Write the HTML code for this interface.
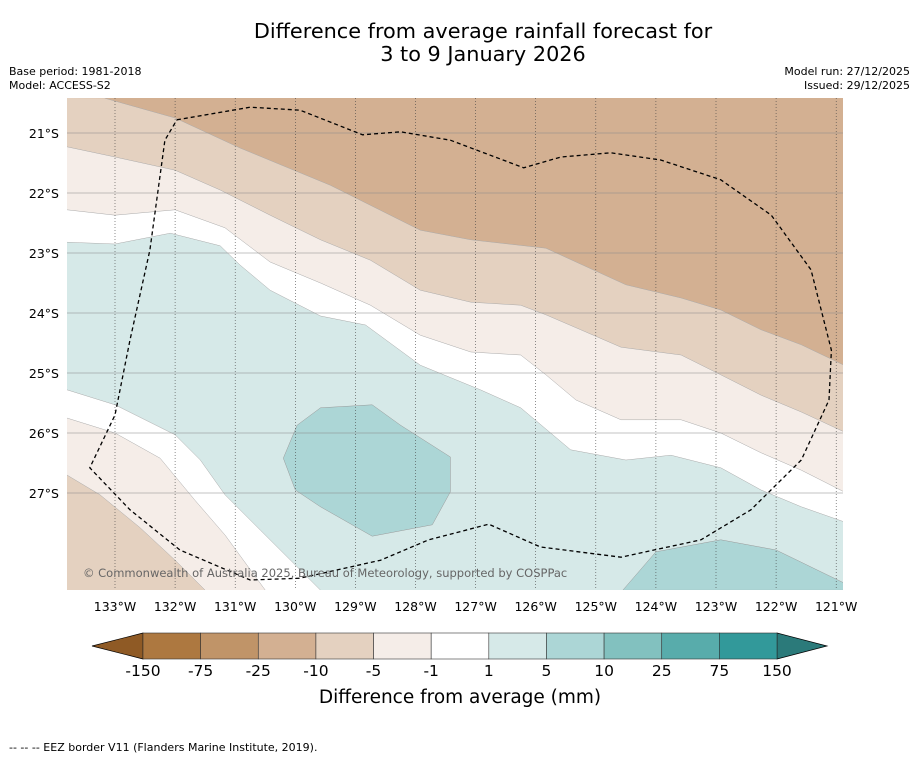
<!DOCTYPE html>
<html><head><meta charset="utf-8">
<style>
body{margin:0;background:#fff;width:919px;height:758px;overflow:hidden;font-family:"DejaVu Sans","Liberation Sans",sans-serif;}
svg{position:absolute;left:0;top:0}
</style></head>
<body>
<svg id="s" width="919" height="758" viewBox="0 0 919 758" font-family="DejaVu Sans, Liberation Sans, sans-serif">
<text x="483" y="38" text-anchor="middle" font-size="20.8" fill="#000">Difference from average rainfall forecast for</text>
<text x="483" y="61" text-anchor="middle" font-size="20.8" fill="#000">3 to 9 January 2026</text>
<text x="9" y="75" font-size="11">Base period: 1981-2018</text>
<text x="9" y="89" font-size="11">Model: ACCESS-S2</text>
<text x="910" y="75" font-size="11" text-anchor="end">Model run: 27/12/2025</text>
<text x="910" y="89" font-size="11" text-anchor="end">Issued: 29/12/2025</text>
<defs><clipPath id="pc"><rect x="67" y="98" width="776" height="492"/></clipPath></defs>
<g id="map" clip-path="url(#pc)"></g>
<g id="axes"></g>
<text x="83" y="577" font-size="11.5" fill="#666">© Commonwealth of Australia 2025, Bureau of Meteorology, supported by COSPPac</text>
<g id="cbar"></g>
<text x="460" y="703" text-anchor="middle" font-size="18.5">Difference from average (mm)</text>
<text x="9" y="751" font-size="11">--  --  -- EEZ border V11 (Flanders Marine Institute, 2019).</text>
</svg>
<script>
const lonTicks=[133,132,131,130,129,128,127,126,125,124,123,122,121];
const latTicks=[21,22,23,24,25,26,27];
const cbLevels=["-150","-75","-25","-10","-5","-1","1","5","10","25","75","150"];
const cbColors=["#ad7840","#c09468","#d3b092","#e4d1c0","#f5ede8","#ffffff","#d6e9e8","#acd6d6","#82c1bf","#58acab","#32999a"];
// contour boundaries [lon, lat]
const b1=[[133.17,20.42],[132,20.75],[130.92,21.25],[129.42,21.87],[127.92,22.62],[127.08,22.78],[125.83,22.92],[125.33,23.15],[124.5,23.53],[123.58,23.75],[122.92,23.95],[122.25,24.28],[121.58,24.53],[120.87,24.87]];
const b2=[[133.8,21.23],[133,21.4],[132,21.62],[131.25,21.95],[130.42,22.37],[129.58,22.78],[128.75,23.12],[127.92,23.62],[127.08,23.82],[126.25,23.87],[125.83,24.03],[125.25,24.28],[124.58,24.57],[123.58,24.7],[122.92,25.03],[122.25,25.37],[121.58,25.65],[120.87,25.98]];
const b3=[[133.8,22.28],[133,22.37],[132,22.28],[131.17,22.58],[130.42,23.15],[129.58,23.5],[128.75,23.87],[127.92,24.37],[127.08,24.65],[126.25,24.7],[125.83,25.03],[125.33,25.45],[124.58,25.78],[123.58,25.78],[122.92,26],[122.25,26.33],[121.58,26.62],[120.87,26.98]];
const b4=[[133.8,22.82],[133,22.85],[132.08,22.67],[131.25,22.88],[130.92,23.2],[130.42,23.62],[129.58,24.05],[128.83,24.2],[127.92,24.87],[126.92,25.28],[126.25,25.58],[125.42,26.28],[124.5,26.45],[123.75,26.37],[122.92,26.58],[122.25,26.95],[121.58,27.23],[120.87,27.48]];
const b5=[[133.8,25.28],[133,25.53],[132,26.03],[131.58,26.45],[131.17,27.03],[130.58,27.62],[130,28.2],[129.58,28.62]];
const b6=[[133.8,25.75],[133,26],[132.25,26.42],[131.67,27.12],[131.17,27.7],[130.5,28.62]];
const b7=[[133.8,26.7],[133.25,27.03],[132.58,27.58],[132,28.12],[131.5,28.62]];
const blob=[[129.58,25.58],[128.72,25.53],[128.25,25.87],[127.42,26.4],[127.42,26.98],[127.72,27.53],[128.72,27.72],[129.58,27.23],[130,26.95],[130.2,26.42],[129.97,25.87]];
const blobBR=[[124.55,28.62],[124,27.98],[122.92,27.78],[122,27.95],[120.87,28.5],[120.87,28.62]];
const eez=[[131.97,20.78],[130.75,20.57],[129.92,20.62],[128.88,21.03],[128.25,20.98],[127.42,21.12],[126.2,21.58],[125.58,21.4],[124.75,21.33],[123.92,21.45],[122.92,21.78],[122.08,22.37],[121.42,23.28],[121.08,24.62],[121.12,25.45],[121.58,26.45],[122.42,27.28],[123.25,27.78],[124.58,28.07],[125.92,27.9],[126.78,27.52],[127.78,27.78],[128.58,28.12],[129.92,28.42],[130.75,28.45],[131.92,27.95],[132.75,27.28],[133.42,26.58],[133,25.7],[132.75,24.45],[132.42,22.95],[132.17,21.12],[131.97,20.78]];

const X0=67,X1=843,Y0=98,Y1=590;
const xs=lon=>115+(133-lon)*60.1;
const ys=lat=>133+(lat-21)*60;
const NS='http://www.w3.org/2000/svg';
function mk(tag,attrs,parent){const e=document.createElementNS(NS,tag);for(const k in attrs)e.setAttribute(k,attrs[k]);parent.appendChild(e);return e;}
const map=document.getElementById('map');
const pts=a=>a.map(p=>xs(p[0]).toFixed(1)+','+ys(p[1]).toFixed(1)).join(' ');
let r=mk('rect',{x:X0,y:Y0,width:X1-X0,height:Y1-Y0,fill:cbColors[2]},map);


const corners=' '+X1+','+Y1+' '+X0+','+Y1;
const bands=[[b1,cbColors[3],' '+X1+','+Y1+' '+X0+','+Y1+' '+X0+','+Y0,'region-minus10-minus5'],[b2,cbColors[4],corners,'region-minus5-minus1'],[b3,cbColors[5],corners,'region-near-average'],[b4,cbColors[6],corners,'region-1-5'],[b5,cbColors[5],' '+X0+','+Y1,'region-near-average-sw'],[b6,cbColors[4],' '+X0+','+Y1,'region-minus5-minus1-sw'],[b7,cbColors[3],' '+X0+','+Y1,'region-minus10-minus5-sw']];
bands.forEach(b=>{
  const p=mk('polygon',{points:pts(b[0])+b[2],fill:b[1]},map);
  
  
});
[blob,blobBR].forEach((b,i)=>{
  const p=mk('polygon',{points:pts(b),fill:cbColors[7],stroke:'#999','stroke-width':0.5},map);
  
  
});
[b1,b2,b3,b4,b5,b6,b7].forEach(b=>{
  const l=mk('polyline',{points:pts(b),fill:'none',stroke:'#aaa','stroke-width':0.5},map);
  
  
});
const ax=document.getElementById('axes');
lonTicks.forEach(t=>{
  const x=xs(t);
  const g=mk('line',{x1:x,x2:x,y1:Y0,y2:Y1,stroke:'#444','stroke-width':0.6,'stroke-dasharray':'1,2'},map);
  
  
  const tx=mk('text',{x:x,y:611,'text-anchor':'middle','font-size':12.5},ax);
  tx.textContent=t+'°W';
  
  
});
latTicks.forEach(t=>{
  const y=ys(t);
  const g=mk('line',{x1:X0,x2:X1,y1:y,y2:y,stroke:'#888','stroke-width':0.6},map);
  
  
  const tx=mk('text',{x:59,y:y+5,'text-anchor':'end','font-size':12.5},ax);
  tx.textContent=t+'°S';
  
  
});
const ez=mk('polyline',{points:pts(eez),fill:'none',stroke:'#000','stroke-width':1.3,'stroke-dasharray':'4,3'},map);


// colorbar
const cb=document.getElementById('cbar');
const CB0=143,CB1=777,CT=633,CBt=659,n=cbColors.length,w=(CB1-CB0)/n;
const lt=mk('polygon',{points:`92,646 ${CB0},${CT} ${CB0},${CBt}`,fill:'#8f5a25',stroke:'#000','stroke-width':0.7},cb);


const rt=mk('polygon',{points:`827,646 ${CB1},${CT} ${CB1},${CBt}`,fill:'#2b7a7a',stroke:'#000','stroke-width':0.7},cb);


cbColors.forEach((c,i)=>{
  const b=mk('rect',{x:CB0+i*w,y:CT,width:w,height:CBt-CT,fill:c,stroke:'#333','stroke-width':0.6},cb);
  
  
});
cbLevels.forEach((l,i)=>{
  const t=mk('text',{x:CB0+i*w,y:676,'text-anchor':'middle','font-size':15.5},cb);
  t.textContent=l;
  
  
});
</script>
</body></html>
